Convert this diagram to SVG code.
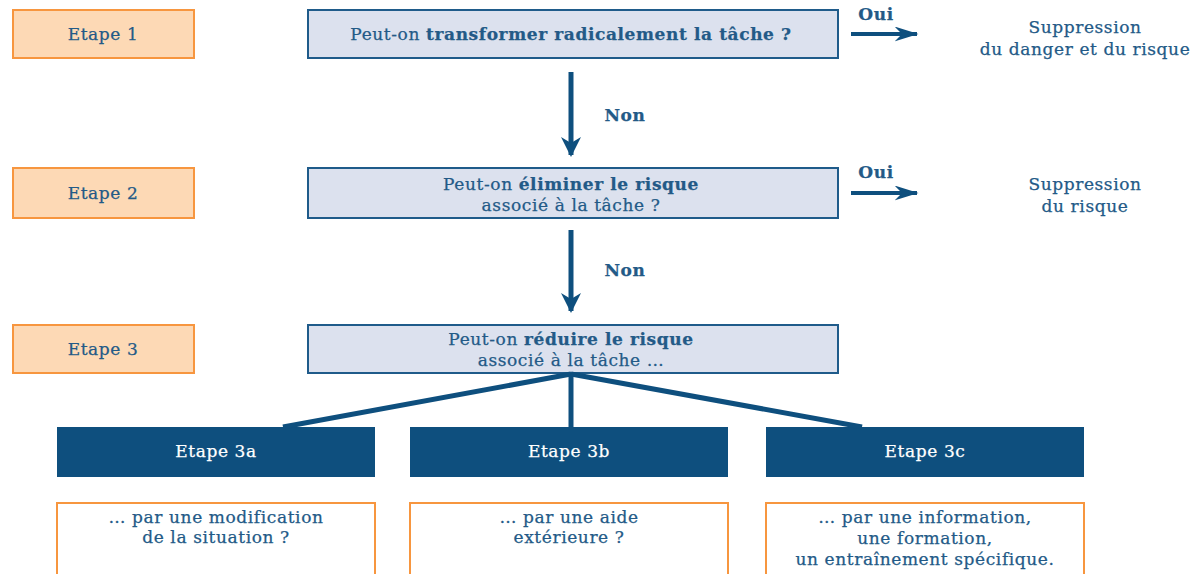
<svg xmlns="http://www.w3.org/2000/svg" width="1202" height="574" viewBox="0 0 1202 574">
<defs>
<style>
.step{fill:#FDD9B5;stroke:#F7963F;stroke-width:2}
.q{fill:#DCE1EE;stroke:#1F5B8A;stroke-width:2}
.dark{fill:#0E4F7E}
.out{fill:#FFFFFF;stroke:#F7963F;stroke-width:2}
text{font-family:"DejaVu Serif","Liberation Serif",serif;font-size:17px;letter-spacing:0.6px;fill:#235A87;text-anchor:middle;stroke:#235A87;stroke-width:0.25}
.b{font-weight:bold}
.w{fill:#FFFFFF;stroke:#FFFFFF}
.conn{stroke:#0E4F7E;stroke-width:5;fill:none}
.thin{stroke:#0E4F7E;stroke-width:4;fill:none}
</style>
<marker id="ah" viewBox="0 0 10 10" refX="9" refY="5" markerWidth="4.5" markerHeight="4" orient="auto" markerUnits="strokeWidth">
<path d="M0,0 L10,5 L0,10 L3,5 Z" fill="#0E4F7E"/>
</marker>
<marker id="ahh" viewBox="0 0 16 10" refX="15" refY="5" markerWidth="6" markerHeight="3.75" orient="auto" markerUnits="strokeWidth">
<path d="M0,0 L16,5 L0,10 L5,5 Z" fill="#0E4F7E"/>
</marker>
</defs>
<g id="etape1"><rect class="step" x="13" y="10" width="181" height="48"/><text x="103" y="40">Etape 1</text></g>
<g id="etape2"><rect class="step" x="13" y="168" width="181" height="50"/><text x="103" y="199">Etape 2</text></g>
<g id="etape3"><rect class="step" x="13" y="325" width="181" height="48"/><text x="103" y="355">Etape 3</text></g>
<g id="q1"><rect class="q" x="308" y="10" width="530" height="48"/><text x="571" y="40">Peut-on <tspan class="b">transformer radicalement la tâche ?</tspan></text></g>
<g id="q2"><rect class="q" x="308" y="168" width="530" height="50"/><text x="571" y="190">Peut-on <tspan class="b">éliminer le risque</tspan></text><text x="571" y="211">associé à la tâche ?</text></g>
<g id="q3"><rect class="q" x="308" y="325" width="530" height="48"/><text x="571" y="345">Peut-on <tspan class="b">réduire le risque</tspan></text><text x="571" y="366">associé à la tâche …</text></g>
<g id="r1"><text x="1085" y="33">Suppression</text><text x="1085" y="55">du danger et du risque</text></g>
<g id="r2"><text x="1085" y="190">Suppression</text><text x="1085" y="212">du risque</text></g>
<g id="e3a"><rect class="dark" x="57" y="427" width="318" height="50"/><text class="w" x="216" y="457">Etape 3a</text></g>
<g id="e3b"><rect class="dark" x="410" y="427" width="318" height="50"/><text class="w" x="569" y="457">Etape 3b</text></g>
<g id="e3c"><rect class="dark" x="766" y="427" width="318" height="50"/><text class="w" x="925" y="457">Etape 3c</text></g>
<g id="o3a"><rect class="out" x="57" y="503" width="318" height="80"/><text x="216" y="523">… par une modification</text><text x="216" y="543">de la situation ?</text></g>
<g id="o3b"><rect class="out" x="410" y="503" width="318" height="80"/><text x="569" y="523">… par une aide</text><text x="569" y="543">extérieure ?</text></g>
<g id="o3c"><rect class="out" x="766" y="503" width="318" height="80"/><text x="925" y="523">… par une information,</text><text x="925" y="544">une formation,</text><text x="925" y="565">un entraînement spécifique.</text></g>
<g id="connectors">
<line class="conn" x1="571" y1="72" x2="571" y2="155" marker-end="url(#ah)"/>
<line class="conn" x1="571" y1="230" x2="571" y2="311" marker-end="url(#ah)"/>
<line class="thin" x1="851" y1="34" x2="917" y2="34" marker-end="url(#ahh)"/>
<line class="thin" x1="851" y1="193" x2="917" y2="193" marker-end="url(#ahh)"/>
<line class="conn" x1="571" y1="373" x2="571" y2="427"/>
<line class="conn" x1="571" y1="374" x2="283" y2="427"/>
<line class="conn" x1="571" y1="374" x2="862" y2="427"/>
<text class="b" x="625" y="121">Non</text>
<text class="b" x="625" y="276">Non</text>
<text class="b" x="876" y="20">Oui</text>
<text class="b" x="876" y="178">Oui</text>
</g>
</svg>
